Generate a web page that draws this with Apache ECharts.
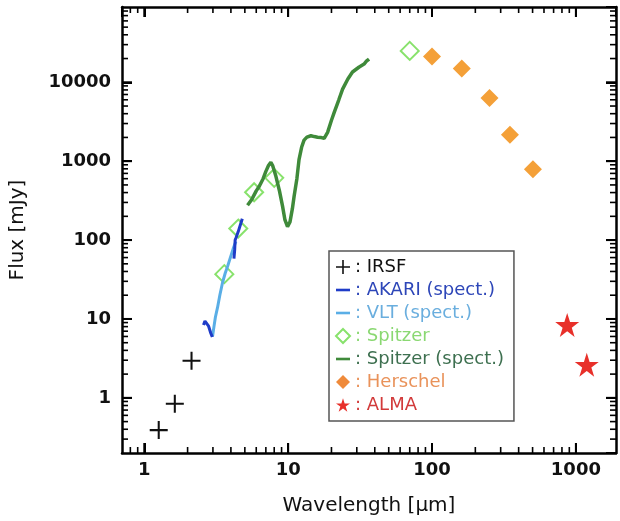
<!DOCTYPE html>
<html>
<head>
<meta charset="utf-8">
<script src="https://cdn.jsdelivr.net/npm/echarts@6/dist/echarts.min.js"></script>
<style>html,body{margin:0;padding:0;background:#fff}#c{width:620px;height:521px}</style>
</head>
<body>
<div id="c"></div>
<script>
// ---- data (wavelength [um], flux [mJy]) ----
const irsf = [[1.26, 0.39], [1.63, 0.84], [2.13, 2.95]];
const akariLow = [[2.58, 8.4], [2.64, 9.4], [2.72, 9.6], [2.8, 8.1], [2.9, 6.6], [2.97, 5.9]];
const akariHigh = [[4.2, 58], [4.25, 75], [4.28, 100], [4.35, 108], [4.5, 128], [4.65, 155], [4.8, 186]];
const vlt = [[2.98, 6.0], [3.05, 8.0], [3.12, 10.5], [3.23, 14], [3.35, 20], [3.5, 29], [3.65, 38], [3.8, 47], [4.0, 63], [4.15, 78], [4.33, 96]];
const spitzerPhot = [[3.6, 37], [4.5, 140], [5.8, 404], [8.0, 615], [70, 25000]];
const spitzerSpec = [[5.22, 277], [5.6, 330], [6.0, 420], [6.3, 481], [6.7, 600], [7.0, 743], [7.3, 880], [7.58, 966], [7.8, 880], [8.22, 643], [8.7, 420], [9.14, 269], [9.5, 180], [9.9, 148], [10.3, 170], [10.7, 250], [11.0, 359], [11.5, 600], [11.9, 1045], [12.4, 1500], [12.9, 1850], [13.5, 2020], [14.4, 2100], [15.2, 2050], [16, 2010], [17, 1990], [17.8, 1950], [18.8, 2320], [20, 3300], [20.9, 4160], [22.5, 6000], [23.9, 8180], [26, 11000], [28, 13500], [31, 15500], [33.7, 17000], [35, 18500], [36.5, 19700]];
const herschel = [[100, 21300], [161, 15000], [251, 6340], [348, 2160], [503, 790]];
const alma = [[870, 8.4], [1190, 2.63]];

const legendNames = ['IRSF', 'AKARI (spect.)', 'VLT (spect.)', 'Spitzer', 'Spitzer (spect.)', 'Herschel', 'ALMA'];
const xRange = [0.7, 1900];
const yRange = [0.2, 90000];
const xMajorTicks = [1, 10, 100, 1000];
const yMajorTicks = [1, 10, 100, 1000, 10000];
const xMinorTicks = [0.8, 0.9, 2, 3, 4, 5, 6, 7, 8, 9, 20, 30, 40, 50, 60, 70, 80, 90, 200, 300, 400, 500, 600, 700, 800, 900];
const yMinorTicks = [0.3, 0.4, 0.5, 0.6, 0.7, 0.8, 0.9, 2, 3, 4, 5, 6, 7, 8, 9, 20, 30, 40, 50, 60, 70, 80, 90, 200, 300, 400, 500, 600, 700, 800, 900, 2000, 3000, 4000, 5000, 6000, 7000, 8000, 9000, 20000, 30000, 40000, 50000, 60000, 70000, 80000];

// ---- styles ----
const C = {
  irsf: '#111111', akari: '#1f3cc8', vlt: '#5aaee6', spitzer: '#88e26c',
  spitzerSpec: '#3f8a3a', herschel: '#f4a038', alma: '#e8302a'
};
const TXT = {
  irsf: '#111111', akari: '#2d46b8', vlt: '#6aaede', spitzer: '#8ad872',
  spitzerSpec: '#3e7050', herschel: '#e9925a', alma: '#d23a3a'
};
const FONT = 'DejaVu Sans';
const plusPath = 'path://M6.2,0 H7.8 V6.2 H14 V7.8 H7.8 V14 H6.2 V7.8 H0 V6.2 H6.2 Z';
const dashPath = 'path://M0,0 H14 V2.6 H0 Z';
const starPath = 'path://M50,0 L61.8,36.3 L100,36.3 L69.1,58.8 L80.9,95.1 L50,72.6 L19.1,95.1 L30.9,58.8 L0,36.3 L38.2,36.3 Z';
const MAJOR_LEN = 10, MINOR_LEN = 6;

// tick items: [x, y, length, side]  side 0=bottom 1=top 2=left 3=right
const tickItems = [];
xMajorTicks.forEach(v => { tickItems.push([v, yRange[0], MAJOR_LEN, 0]); tickItems.push([v, yRange[1], MAJOR_LEN, 1]); });
xMinorTicks.forEach(v => { tickItems.push([v, yRange[0], MINOR_LEN, 0]); tickItems.push([v, yRange[1], MINOR_LEN, 1]); });
yMajorTicks.forEach(v => { tickItems.push([xRange[0], v, MAJOR_LEN, 2]); tickItems.push([xRange[1], v, MAJOR_LEN, 3]); });
yMinorTicks.forEach(v => { tickItems.push([xRange[0], v, MINOR_LEN, 2]); tickItems.push([xRange[1], v, MINOR_LEN, 3]); });

function renderTick(params, api) {
  const p = api.coord([api.value(0), api.value(1)]);
  const len = api.value(2);
  const side = api.value(3);
  const w = len === MAJOR_LEN ? 2 : 1.6;
  let shape;
  if (side === 0) shape = { x1: p[0], y1: p[1], x2: p[0], y2: p[1] - len };
  else if (side === 1) shape = { x1: p[0], y1: p[1], x2: p[0], y2: p[1] + len };
  else if (side === 2) shape = { x1: p[0], y1: p[1], x2: p[0] + len, y2: p[1] };
  else shape = { x1: p[0], y1: p[1], x2: p[0] - len, y2: p[1] };
  return { type: 'line', shape: shape, style: { stroke: '#000', lineWidth: w, fill: null } };
}

const chart = echarts.init(document.getElementById('c'));

const axisLine = () => ({ show: true, lineStyle: { color: '#000', width: 2.5 } });
const axisTick = () => ({ show: true, inside: true, length: MAJOR_LEN, lineStyle: { color: '#000', width: 2 } });
const fmt = v => String(v);

const option = {
  animation: false,
  backgroundColor: '#fff',
  grid: { left: 121, right: 4, top: 7, bottom: 67 },
  xAxis: [
    {
      type: 'log', min: xRange[0], max: xRange[1], position: 'bottom',
      name: 'Wavelength [\u03bcm]', nameLocation: 'middle', nameGap: 43,
      nameTextStyle: { fontFamily: FONT, fontSize: 20, color: '#111' },
      axisLine: axisLine(), axisTick: axisTick(),
      axisLabel: { fontFamily: FONT, fontSize: 18, fontWeight: 'bold', color: '#111', margin: 8, showMinLabel: false, showMaxLabel: false, formatter: fmt },
      splitLine: { show: false }
    },
    {
      type: 'log', min: xRange[0], max: xRange[1], position: 'top',
      axisLine: axisLine(), axisTick: axisTick(),
      axisLabel: { show: false }, splitLine: { show: false }
    }
  ],
  yAxis: [
    {
      type: 'log', min: yRange[0], max: yRange[1], position: 'left',
      name: 'Flux [mJy]', nameLocation: 'middle', nameGap: 94,
      nameTextStyle: { fontFamily: FONT, fontSize: 20, color: '#111' },
      axisLine: axisLine(), axisTick: axisTick(),
      axisLabel: { fontFamily: FONT, fontSize: 18, fontWeight: 'bold', color: '#111', margin: 11, showMinLabel: false, showMaxLabel: false, formatter: fmt },
      splitLine: { show: false }
    },
    {
      type: 'log', min: yRange[0], max: yRange[1], position: 'right',
      axisLine: axisLine(), axisTick: axisTick(),
      axisLabel: { show: false }, splitLine: { show: false }
    }
  ],
  legend: {
    orient: 'vertical', left: 329, top: 251,
    padding: [7, 10, 7, 6], itemGap: 5, itemWidth: 14, itemHeight: 14,
    backgroundColor: '#fff', borderColor: '#555', borderWidth: 1.5,
    selectedMode: false,
    formatter: n => ': ' + n,
    textStyle: { fontFamily: FONT, fontSize: 18 },
    data: [
      { name: legendNames[0], icon: plusPath, itemStyle: { color: C.irsf, opacity: 1 }, textStyle: { color: TXT.irsf } },
      { name: legendNames[1], icon: dashPath, itemStyle: { color: C.akari }, textStyle: { color: TXT.akari } },
      { name: legendNames[2], icon: dashPath, itemStyle: { color: C.vlt }, textStyle: { color: TXT.vlt } },
      { name: legendNames[3], icon: 'diamond', itemStyle: { color: '#fff', borderColor: C.spitzer, borderWidth: 2, opacity: 1 }, textStyle: { color: TXT.spitzer } },
      { name: legendNames[4], icon: dashPath, itemStyle: { color: C.spitzerSpec }, textStyle: { color: TXT.spitzerSpec } },
      { name: legendNames[5], icon: 'diamond', itemStyle: { color: '#ef8a3a', opacity: 1 }, textStyle: { color: TXT.herschel } },
      { name: legendNames[6], icon: starPath, itemStyle: { color: C.alma, opacity: 1 }, textStyle: { color: TXT.alma } }
    ]
  },
  series: [
    {
      name: legendNames[3], type: 'scatter', data: spitzerPhot, symbol: 'diamond', symbolSize: 18, z: 2,
      itemStyle: { color: 'rgba(255,255,255,0)', borderColor: C.spitzer, borderWidth: 2, opacity: 1 }
    },
    {
      name: legendNames[2], type: 'line', data: vlt, showSymbol: false, symbol: 'none', z: 3,
      lineStyle: { color: C.vlt, width: 3 }, itemStyle: { color: C.vlt }
    },
    {
      name: legendNames[1], type: 'line', data: akariLow, showSymbol: false, symbol: 'none', z: 4,
      lineStyle: { color: C.akari, width: 3 }, itemStyle: { color: C.akari }
    },
    {
      name: 'AKARI upper segment', type: 'line', data: akariHigh, showSymbol: false, symbol: 'none', z: 4,
      lineStyle: { color: C.akari, width: 3 }, itemStyle: { color: C.akari }
    },
    {
      name: legendNames[4], type: 'line', data: spitzerSpec, showSymbol: false, symbol: 'none', z: 3,
      lineStyle: { color: C.spitzerSpec, width: 3.5 }, itemStyle: { color: C.spitzerSpec }
    },
    {
      name: legendNames[0], type: 'scatter', data: irsf, symbol: plusPath, symbolSize: 18, z: 4,
      itemStyle: { color: C.irsf, opacity: 1 }
    },
    {
      name: legendNames[5], type: 'scatter', data: herschel, symbol: 'diamond', symbolSize: 18, z: 4,
      itemStyle: { color: C.herschel, opacity: 1 }
    },
    {
      name: legendNames[6], type: 'scatter', data: alma, symbol: starPath, symbolSize: 24, z: 4,
      itemStyle: { color: C.alma, opacity: 1 }
    },
    {
      name: 'axis ticks', type: 'custom', coordinateSystem: 'cartesian2d', xAxisIndex: 0, yAxisIndex: 0,
      data: tickItems, renderItem: renderTick, silent: true, clip: false, z: 10,
      dimensions: ['x', 'y', 'len', 'side'], encode: { x: 0, y: 1 }
    }
  ]
};
chart.setOption(option);
</script>
</body>
</html>
